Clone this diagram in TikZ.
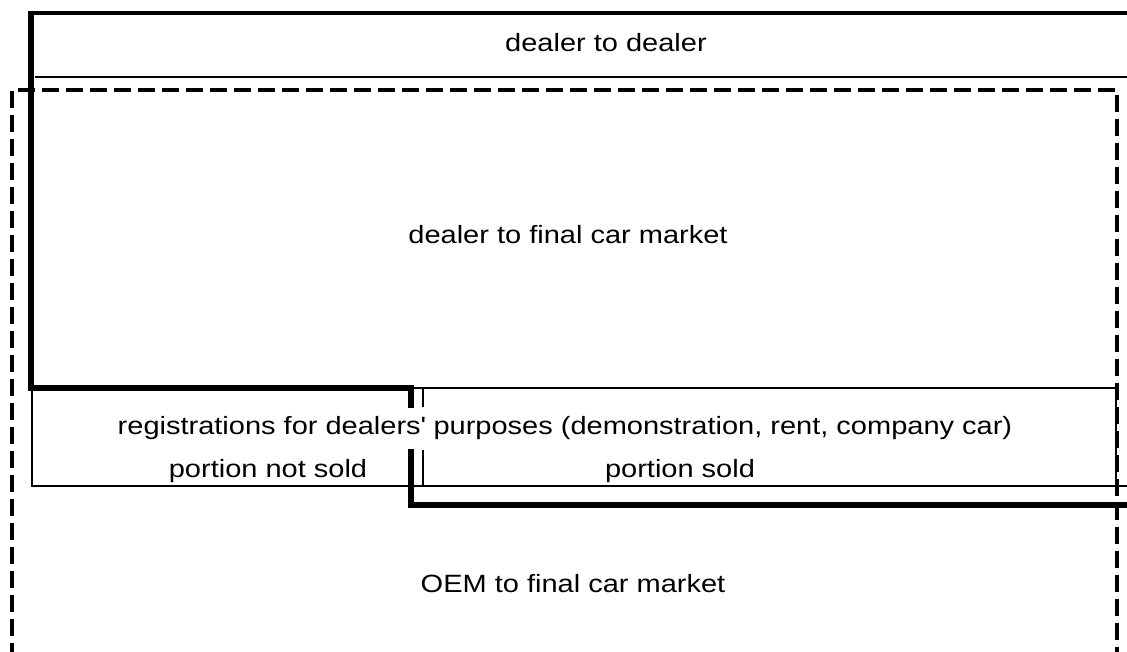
\documentclass[tikz,border=0pt]{standalone}
\usepackage{fontspec}
\setmainfont[FakeStretch=1.16]{Liberation Sans}
\begin{document}
\begin{tikzpicture}[x=1pt,y=-1pt,
  lbl/.style={anchor=base,inner sep=0pt,font=\fontsize{25}{29}\selectfont},
  thickline/.style={line width=6pt,line join=miter},
  thinline/.style={line width=1.5pt},
  dashline/.style={line width=4pt,dash pattern=on 17pt off 7pt}]
\useasboundingbox (0,0) rectangle (1127,652);
% thin upper separator
\draw[thinline] (35,77) -- (1127,77);
% dashed outer rectangle (open at bottom)
\draw[dashline] (12,660) -- (12,90) -- (1117,90) -- (1117,660);
% thin box for registrations
\draw[thinline] (411,388) -- (1116,388) -- (1116,486);
\draw[thinline] (32,388) -- (32,486) -- (1127,486);
\draw[thinline] (423,388) -- (423,407);
\draw[thinline] (423,450) -- (423,486);
% thick frame
\draw[line width=4pt] (1127,13) -- (29,13);
\draw[thickline] (31,11) -- (31,388) -- (411,388) -- (411,408);
\draw[thickline] (411,449) -- (411,505) -- (1127,505);
% labels
\node[lbl] (d2d) at (606,52) {dealer to dealer};
\node[lbl] (d2f) at (568,244) {dealer to final car market};
\node[lbl] (reg) at (565,434) {registrations for dealers\textquotesingle{} purposes (demonstration, rent, company car)};
\node[lbl] (pns) at (268,477) {portion not sold};
\node[lbl] (ps) at (680,477) {portion sold};
\node[lbl] (oem) at (573,592) {OEM to final car market};
\end{tikzpicture}
\end{document}
